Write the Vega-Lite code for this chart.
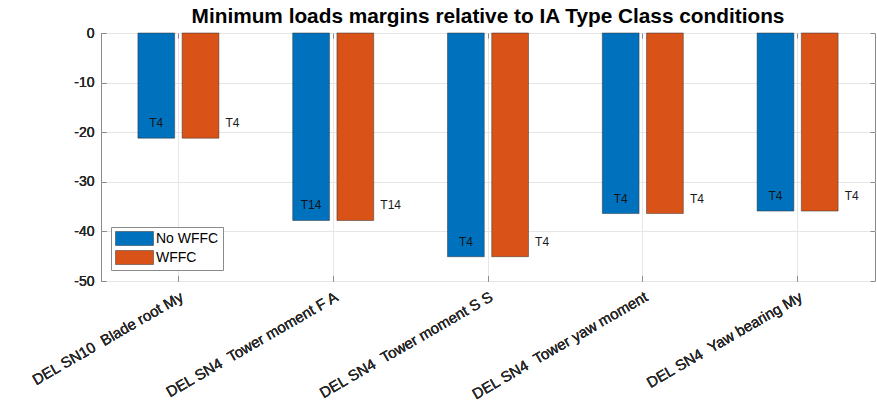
{
  "$schema": "https://vega.github.io/schema/vega-lite/v6.json",
  "width": 774,
  "height": 248,
  "autosize": {"type": "none"},
  "padding": {"left": 101, "top": 33, "right": 2, "bottom": 124},
  "background": "white",
  "title": {
    "text": "Minimum loads margins relative to IA Type Class conditions",
    "font": "Liberation Sans",
    "fontSize": 20.8,
    "fontWeight": "bold",
    "color": "#000000",
    "anchor": "middle",
    "offset": -5
  },
  "config": {
    "font": "Liberation Sans",
    "view": {"stroke": "#8a8a8a", "strokeWidth": 1},
    "axis": {
      "labelFont": "Liberation Sans",
      "labelColor": "#262626",
      "labelFontSize": 13,
      "gridColor": "#e6e6e6",
      "gridWidth": 1,
      "tickColor": "#8a8a8a",
      "domain": false,
      "title": null
    }
  },
  "data": {
    "values": [
      {"category": "DEL SN10 \u00a0Blade root My", "series": "No WFFC", "value": -21.2, "label": "T4"},
      {"category": "DEL SN10 \u00a0Blade root My", "series": "WFFC", "value": -21.2, "label": "T4"},
      {"category": "DEL SN4 \u00a0Tower moment F A", "series": "No WFFC", "value": -37.8, "label": "T14"},
      {"category": "DEL SN4 \u00a0Tower moment F A", "series": "WFFC", "value": -37.8, "label": "T14"},
      {"category": "DEL SN4 \u00a0Tower moment S S", "series": "No WFFC", "value": -45.1, "label": "T4"},
      {"category": "DEL SN4 \u00a0Tower moment S S", "series": "WFFC", "value": -45.1, "label": "T4"},
      {"category": "DEL SN4 \u00a0Tower yaw moment", "series": "No WFFC", "value": -36.4, "label": "T4"},
      {"category": "DEL SN4 \u00a0Tower yaw moment", "series": "WFFC", "value": -36.4, "label": "T4"},
      {"category": "DEL SN4 \u00a0Yaw bearing My", "series": "No WFFC", "value": -35.9, "label": "T4"},
      {"category": "DEL SN4 \u00a0Yaw bearing My", "series": "WFFC", "value": -35.9, "label": "T4"}
    ]
  },
  "encoding": {
    "x": {
      "field": "category",
      "type": "nominal",
      "sort": null,
      "scale": {"paddingInner": 0, "paddingOuter": 0},
      "axis": {
        "orient": "bottom",
        "labelAngle": -30,
        "labelAlign": "right",
        "labelBaseline": "top",
        "labelFontSize": 15,
        "tickSize": -5,
        "labelPadding": 13,
        "grid": true,
        "labelLimit": 300
      }
    },
    "xOffset": {
      "field": "series",
      "type": "nominal",
      "scale": {"paddingInner": 0.169, "paddingOuter": 0.834}
    },
    "y": {
      "field": "value",
      "type": "quantitative",
      "scale": {"domain": [-50, 0], "nice": false},
      "axis": {
        "orient": "left",
        "values": [-50, -40, -30, -20, -10, 0],
        "labelExpr": "toString(datum.value)",
        "labelFontSize": 14,
        "tickSize": -5,
        "labelPadding": 12,
        "grid": true
      }
    }
  },
  "layer": [
    {
      "mark": {"type": "bar", "stroke": "#333333", "strokeWidth": 0.5},
      "encoding": {
        "color": {
          "field": "series",
          "type": "nominal",
          "scale": {"domain": ["No WFFC", "WFFC"], "range": ["#0072BD", "#D95319"]},
          "legend": {
            "title": null,
            "orient": "none",
            "legendX": 10,
            "legendY": 194,
            "fillColor": "white",
            "strokeColor": "#8a8a8a",
            "padding": 4,
            "symbolType": "M-2.714,-1H2.714V1H-2.714Z",
            "symbolSize": 196,
            "symbolOffset": 12,
            "symbolStrokeColor": "#333333",
            "symbolStrokeWidth": 0.5,
            "symbolOpacity": 1,
            "labelOffset": 14,
            "labelFont": "Liberation Sans",
            "labelFontSize": 14,
            "labelColor": "#000000",
            "rowPadding": 2
          }
        }
      }
    },
    {
      "transform": [{"filter": "datum.series === 'No WFFC'"}],
      "mark": {"type": "text", "font": "Liberation Sans", "fontSize": 12, "color": "#141414", "baseline": "middle", "align": "center", "dy": -15},
      "encoding": {"text": {"field": "label"}}
    },
    {
      "transform": [{"filter": "datum.series === 'WFFC'"}],
      "mark": {"type": "text", "font": "Liberation Sans", "fontSize": 12, "color": "#1a1a1a", "baseline": "middle", "align": "left", "dx": 25, "dy": -15},
      "encoding": {"text": {"field": "label"}}
    },
    {
      "mark": {"type": "rule", "opacity": 0},
      "encoding": {
        "y": {
          "field": "value",
          "type": "quantitative",
          "scale": {"domain": [-50, 0], "nice": false},
          "axis": {"orient": "right", "values": [-50, -40, -30, -20, -10, 0], "labelExpr": "''", "labelAngle": 0, "tickSize": -5, "grid": false}
        },
        "x": {
          "field": "category",
          "type": "nominal",
          "sort": null,
          "scale": {"paddingInner": 0, "paddingOuter": 0},
          "axis": {"orient": "top", "labelExpr": "''", "labelAngle": 0, "tickSize": -5, "grid": false}
        },
        "xOffset": null
      }
    }
  ],
  "resolve": {"axis": {"x": "independent", "y": "independent"}}
}
